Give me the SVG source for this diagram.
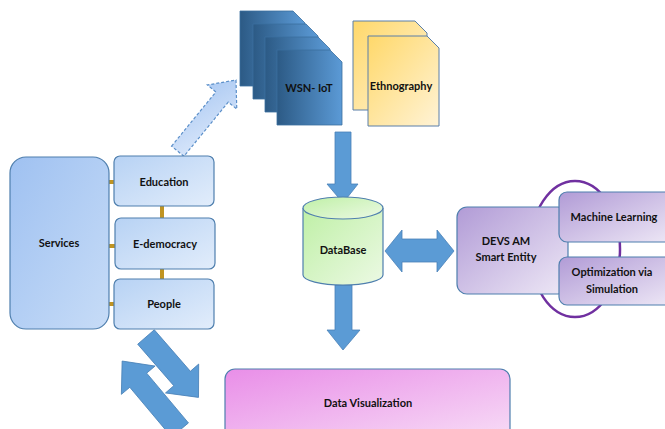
<svg xmlns="http://www.w3.org/2000/svg" width="665" height="429" viewBox="0 0 665 429">
<defs>
<linearGradient id="gSvc" x1="0" y1="0" x2="1" y2="1"><stop offset="0" stop-color="#9fc1f1"/><stop offset="1" stop-color="#c7dcf7"/></linearGradient>
<linearGradient id="gSub" x1="0" y1="0" x2="1" y2="1"><stop offset="0" stop-color="#b7d2f4"/><stop offset="1" stop-color="#e2edfb"/></linearGradient>
<linearGradient id="gWsn" x1="0" y1="0" x2="1" y2="0"><stop offset="0" stop-color="#2c5a85"/><stop offset="1" stop-color="#5b9ad6"/></linearGradient>
<linearGradient id="gEth" x1="0" y1="0" x2="1" y2="1"><stop offset="0" stop-color="#ffd86a"/><stop offset="1" stop-color="#fff3d6"/></linearGradient>
<linearGradient id="gDb" x1="0" y1="0" x2="1" y2="1"><stop offset="0" stop-color="#bff0a6"/><stop offset="1" stop-color="#ecf9e4"/></linearGradient>
<linearGradient id="gPur" x1="0" y1="0" x2="1" y2="1"><stop offset="0" stop-color="#b19bd6"/><stop offset="1" stop-color="#eee8f6"/></linearGradient>
<linearGradient id="gVis" x1="0" y1="0" x2="1" y2="1"><stop offset="0" stop-color="#e98ee8"/><stop offset="1" stop-color="#f7dcf6"/></linearGradient>
<linearGradient id="gDash" x1="0" y1="1" x2="1" y2="0"><stop offset="0" stop-color="#dde9fb"/><stop offset="1" stop-color="#a9c8f2"/></linearGradient>
</defs>
<style>
.t{font-family:Lato,"Liberation Sans",sans-serif;font-weight:bold;font-size:11px;fill:#111;text-anchor:middle}
.box{stroke:#4f7fae;stroke-width:1.2}
.arr{fill:#5b9bd5;stroke:#4a82b8;stroke-width:0.8}
.gold{stroke:#c09422;stroke-width:4}
</style>

<g id="connectors">
<line class="gold" x1="108" y1="182" x2="116" y2="182"/>
<line class="gold" x1="108" y1="246" x2="121" y2="246"/>
<line class="gold" x1="107" y1="304" x2="116" y2="304"/>
<line class="gold" x1="162" y1="205" x2="162" y2="219"/>
<line class="gold" x1="162" y1="268" x2="162" y2="280"/>
<path d="M-92,-8 L-22,-8 L-22,-19 L0,0 L-22,19 L-22,8 L-92,8 Z" fill="url(#gDash)" stroke="#5b8fc9" stroke-width="1.2" stroke-dasharray="3,2" transform="translate(236,80) rotate(-50.7)"/>
<path class="arr" d="M335,132 L351,132 L351,184 L358,184 L343,203 L327,184 L335,184 Z"/>
<path class="arr" d="M385,251 L402,230 L402,239 L437,239 L437,230 L454,251 L437,272 L437,262 L402,262 L402,272 Z"/>
<path class="arr" d="M335,285 L352,285 L352,330 L360,330 L343,350 L327,330 L335,330 Z"/>
<path class="arr" d="M0,-11 L55,-11 L55,-22 L80,0 L55,22 L55,11 L0,11 Z" transform="translate(146,337) rotate(49)"/>
<path class="arr" d="M0,-11 L65,-11 L65,-22 L90,0 L65,22 L65,11 L0,11 Z" transform="translate(180,430) rotate(-130)"/>
</g>

<g id="services"><rect class="box" x="10" y="157" width="99" height="172" rx="16" fill="url(#gSvc)"/><text class="t" x="59" y="247">Services</text></g>
<g id="education"><rect class="box" x="114" y="156" width="100" height="50" rx="6" fill="url(#gSub)"/><text class="t" x="164" y="186">Education</text></g>
<g id="edemocracy"><rect class="box" x="115" y="218" width="100" height="51" rx="6" fill="url(#gSub)"/><text class="t" x="165" y="248">E-democracy</text></g>
<g id="people"><rect class="box" x="114" y="279" width="100" height="50" rx="6" fill="url(#gSub)"/><text class="t" x="164" y="308">People</text></g>

<g id="wsn">
<path d="M240,11 L293,11 L305,23 L305,86 L240,86 Z" fill="url(#gWsn)" stroke="#3a6f9f" stroke-width="0.8"/>
<path d="M253,24 L306,24 L318,36 L318,99 L253,99 Z" fill="url(#gWsn)" stroke="#3a6f9f" stroke-width="0.8"/>
<path d="M265,37 L318,37 L330,49 L330,112 L265,112 Z" fill="url(#gWsn)" stroke="#3a6f9f" stroke-width="0.8"/>
<path d="M277,50 L330,50 L342,62 L342,125 L277,125 Z" fill="url(#gWsn)" stroke="#3a6f9f" stroke-width="0.8"/>
<text class="t" x="309" y="92">WSN- IoT</text>
</g>
<g id="ethnography">
<path d="M353,21 L415,21 L427,33 L427,110 L353,110 Z" fill="url(#gEth)" stroke="#5a7fa8" stroke-width="1"/>
<path d="M368,36 L427,36 L439,48 L439,126 L368,126 Z" fill="url(#gEth)" stroke="#5a7fa8" stroke-width="1"/>
<text class="t" x="401" y="90">Ethnography</text>
</g>

<g id="database">
<path class="box" d="M303,208 L303,275 A40,10 0 0 0 383,275 L383,208" fill="url(#gDb)"/>
<ellipse class="box" cx="343" cy="208" rx="40" ry="11" fill="url(#gDb)"/>
<text class="t" x="343" y="254">DataBase</text>
</g>

<g id="devs">
<ellipse cx="575" cy="249" rx="45" ry="68" fill="none" stroke="#7030a0" stroke-width="2.5"/>
<rect class="box" x="457" y="207" width="111" height="87" rx="10" fill="url(#gPur)"/>
<text class="t" x="506" y="245">DEVS AM</text>
<text class="t" x="506" y="261">Smart Entity</text>
</g>
<g id="ml"><rect class="box" x="559" y="192" width="115" height="50" rx="8" fill="url(#gPur)"/><text class="t" x="614" y="221">Machine Learning</text></g>
<g id="opt"><rect class="box" x="559" y="257" width="115" height="48" rx="8" fill="url(#gPur)"/><text class="t" x="612" y="276">Optimization via</text><text class="t" x="612" y="293">Simulation</text></g>

<g id="datavis"><rect class="box" x="225" y="369" width="285" height="70" rx="10" fill="url(#gVis)"/><text class="t" x="368" y="407">Data Visualization</text></g>
</svg>
